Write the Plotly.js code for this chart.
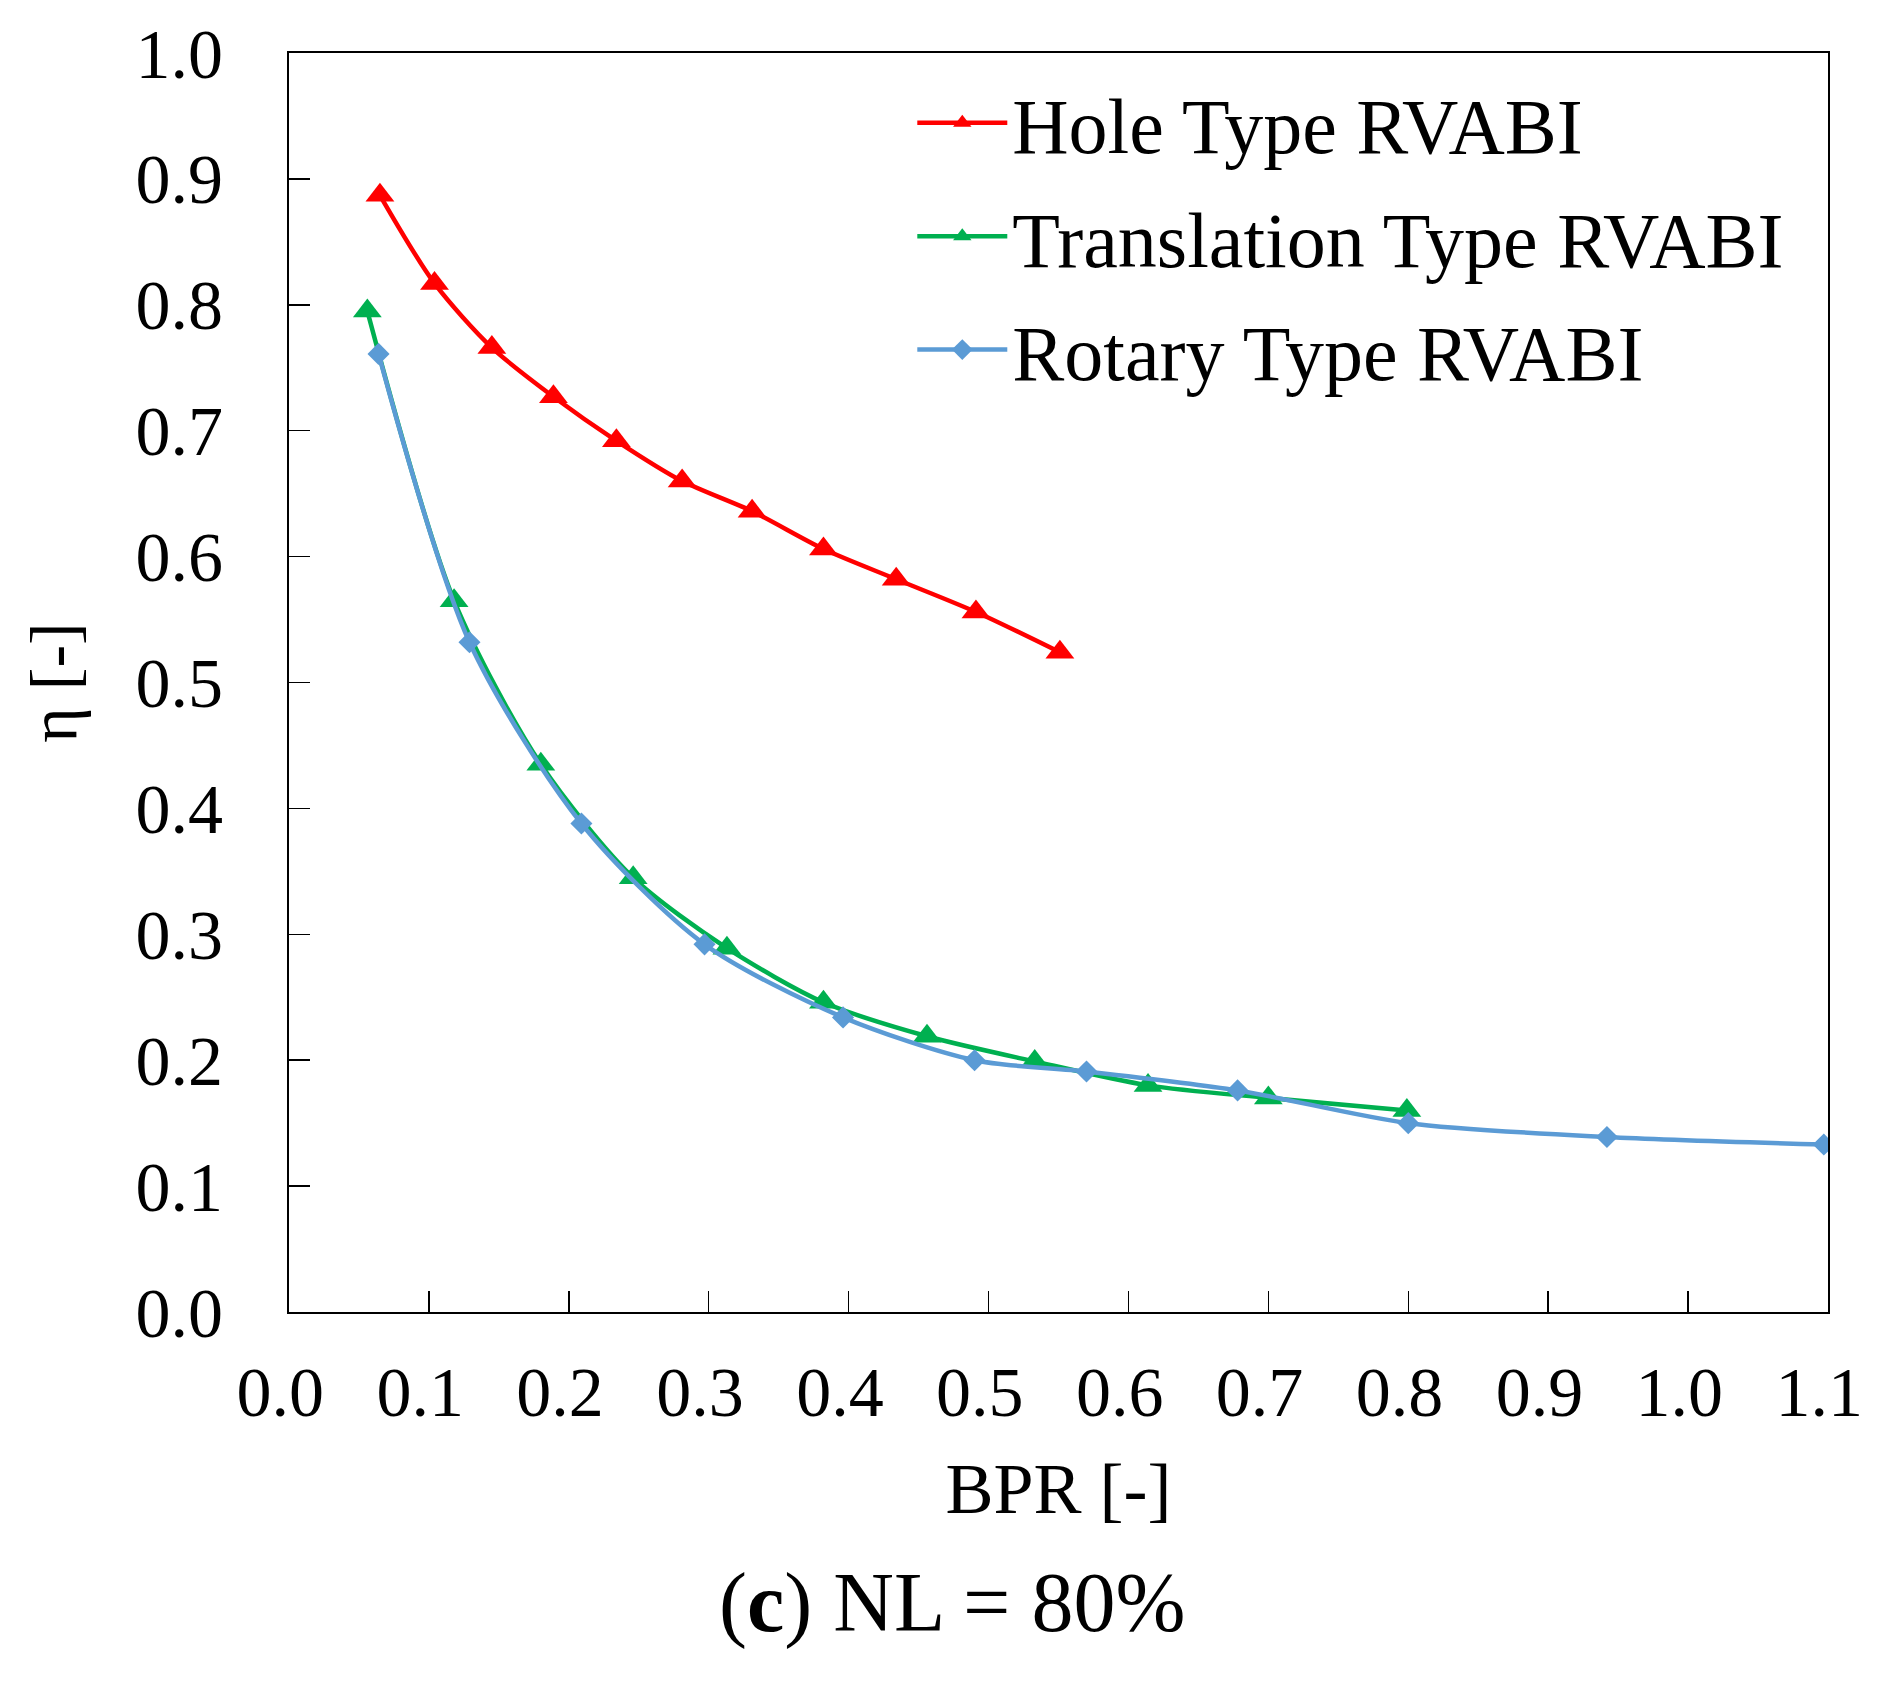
<!DOCTYPE html>
<html>
<head>
<meta charset="utf-8">
<script src="https://cdn.plot.ly/plotly-3.0.1.min.js"></script>
<style>
  body { margin: 0; background: #fff; }
  #chart { width: 1884px; height: 1681px; }
</style>
</head>
<body>
<div id="chart"></div>
<script>
'use strict';

// values: BPR [-] vs eta [-]
const holeBpr = [0.065, 0.104, 0.145, 0.189, 0.234, 0.281, 0.331, 0.382, 0.434, 0.491, 0.551];
const holeEta = [0.887, 0.817, 0.766, 0.727, 0.692, 0.660, 0.636, 0.606, 0.582, 0.556, 0.524];

const transBpr = [0.056, 0.118, 0.180, 0.246, 0.313, 0.382, 0.456, 0.533, 0.614, 0.700, 0.799];
const transEta = [0.795, 0.565, 0.435, 0.345, 0.289, 0.246, 0.219, 0.199, 0.180, 0.170, 0.160];

const rotBpr = [0.064, 0.129, 0.209, 0.297, 0.396, 0.490, 0.570, 0.678, 0.800, 0.942, 1.097];
const rotEta = [0.761, 0.532, 0.388, 0.292, 0.234, 0.200, 0.191, 0.176, 0.150, 0.139, 0.133];

const seriesNames = ['Hole Type RVABI', 'Translation Type RVABI', 'Rotary Type RVABI'];
const seriesColors = ['#FF0000', '#00B050', '#5B9BD5'];

const serif = 'Liberation Serif, Times New Roman, serif';

function curve(x, y, i, symbol, size) {
    return {
        x: x,
        y: y,
        name: seriesNames[i],
        legendgroup: 'g' + i,
        type: 'scatter',
        mode: 'lines+markers',
        line: {color: seriesColors[i], width: 4.5, shape: 'spline', smoothing: 0.8},
        marker: {color: seriesColors[i], symbol: symbol, size: size}
    };
}

let data = [
    curve(holeBpr, holeEta, 0, 'triangle-up', 25),
    curve(transBpr, transEta, 1, 'triangle-up', 25),
    curve(rotBpr, rotEta, 2, 'diamond', 17)
];

let axisCommon = {
    showline: true,
    mirror: true,
    linecolor: '#000',
    linewidth: 2,
    showgrid: false,
    zeroline: false,
    ticks: 'inside',
    ticklen: 21,
    tickwidth: 1.5,
    tickcolor: '#000',
    dtick: 0.1,
    tickformat: '.1f',
    tickfont: {family: serif, size: 70, color: '#000'},
    automargin: false
};

let layout = {
    width: 1884,
    height: 1681,
    margin: {l: 289, r: 56, t: 53, b: 369},
    paper_bgcolor: '#fff',
    plot_bgcolor: '#fff',
    showlegend: true,
    xaxis: Object.assign({}, axisCommon, {
        range: [0, 1.1],
        ticklabelstandoff: 18,
        ticksuffix: '\u00a0',
        title: {text: 'BPR [-]', font: {family: serif, size: 72, color: '#000'}, standoff: 33}
    }),
    yaxis: Object.assign({}, axisCommon, {
        range: [0, 1.0],
        ticklabelstandoff: 50,
        title: {text: 'η [-]', font: {family: serif, size: 68, color: '#000'}, standoff: 36}
    }),
    legend: {
        x: 0.405,
        y: 0.99,
        xanchor: 'left',
        yanchor: 'top',
        bgcolor: 'rgba(0,0,0,0)',
        font: {family: serif, size: 78, color: '#000'},
        tracegroupgap: 9,
        itemwidth: 90
    },
    annotations: [{
        xref: 'paper', yref: 'paper',
        x: 0.431, y: -0.231,
        xanchor: 'center', yanchor: 'middle',
        showarrow: false,
        text: '(<b>c</b>) NL = 80%',
        font: {family: serif, size: 84, color: '#000'}
    }]
};

Plotly.newPlot('chart', data, layout, {staticPlot: true, displayModeBar: false});
</script>
</body>
</html>
